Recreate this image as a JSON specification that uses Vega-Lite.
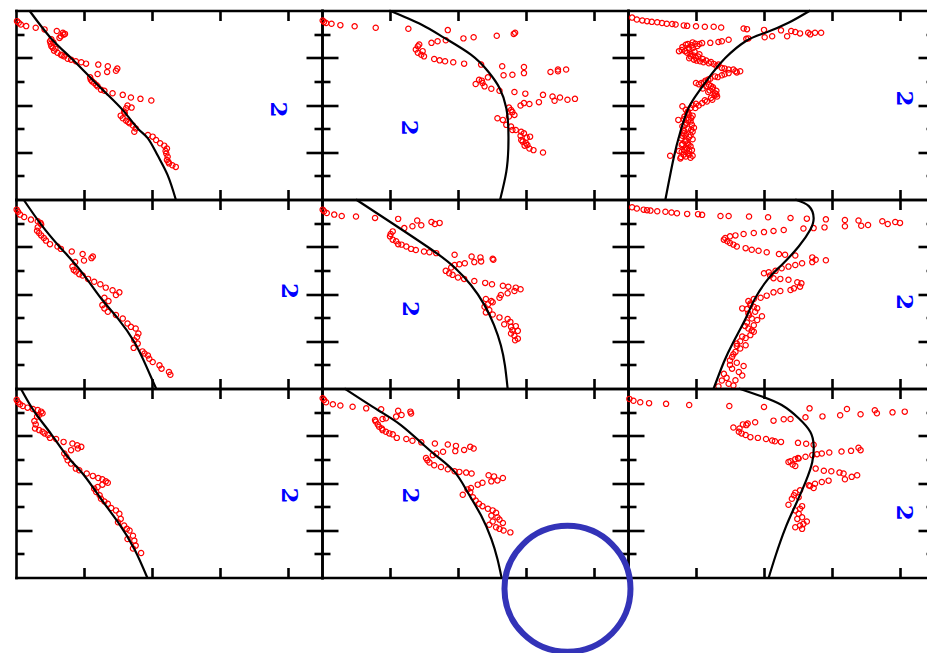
{
  "$schema": "https://vega.github.io/schema/vega-lite/v6.json",
  "padding": {"left": 11, "top": 5.5, "right": 0, "bottom": 0},
  "background": "white",
  "config": {
    "view": {"stroke": null},
    "axis": {
      "labels": false, "grid": false, "title": null,
      "domainColor": "#000", "domainWidth": 2.6, "domainCap": "square",
      "tickColor": "#000", "tickWidth": 2.6, "tickSize": -10,
      "minExtent": 0, "maxExtent": 0
    },
    "text": {"angle": 90, "color": "#0000ff", "font": "DejaVu Serif", "fontWeight": "bold", "fontSize": 23},
    "point": {"shape": "circle", "filled": false, "color": "#ff0000", "size": 28, "strokeWidth": 1.2, "opacity": 1},
    "line": {"color": "#000", "strokeWidth": 2.2, "interpolate": "natural"}
  },
  "datasets": {
    "obs": [
      {"p":1,"x":0.015,"y":0.45},{"p":1,"x":0.04,"y":0.52},{"p":1,"x":0.07,"y":0.59},{"p":1,"x":0.15,"y":0.66},{"p":1,"x":0.29,"y":0.73},{"p":1,"x":0.42,"y":0.8},{"p":1,"x":0.6,"y":0.87},{"p":1,"x":0.69,"y":0.94},{"p":1,"x":0.72,"y":0.99},{"p":1,"x":0.7,"y":1.02},{"p":1,"x":0.66,"y":1.09},{"p":1,"x":0.64,"y":1.16},{"p":1,"x":0.52,"y":1.22},{"p":1,"x":0.5,"y":1.3},{"p":1,"x":0.55,"y":1.35},{"p":1,"x":0.51,"y":1.41},{"p":1,"x":0.52,"y":1.51},{"p":1,"x":0.54,"y":1.58},{"p":1,"x":0.58,"y":1.62},{"p":1,"x":0.56,"y":1.7},{"p":1,"x":0.61,"y":1.79},{"p":1,"x":0.66,"y":1.87},{"p":1,"x":0.68,"y":1.9},{"p":1,"x":0.71,"y":1.94},{"p":1,"x":0.76,"y":2.04},{"p":1,"x":0.81,"y":2.08},{"p":1,"x":0.88,"y":2.15},{"p":1,"x":0.96,"y":2.19},{"p":1,"x":1.03,"y":2.25},{"p":1,"x":1.21,"y":2.29},{"p":1,"x":1.35,"y":2.36},{"p":1,"x":1.49,"y":2.46},{"p":1,"x":1.47,"y":2.55},{"p":1,"x":1.34,"y":2.6},{"p":1,"x":1.2,"y":2.69},{"p":1,"x":1.09,"y":2.83},{"p":1,"x":1.1,"y":2.93},{"p":1,"x":1.12,"y":3.0},{"p":1,"x":1.15,"y":3.07},{"p":1,"x":1.18,"y":3.15},{"p":1,"x":1.2,"y":3.21},{"p":1,"x":1.25,"y":3.35},{"p":1,"x":1.3,"y":3.4},{"p":1,"x":1.42,"y":3.5},{"p":1,"x":1.57,"y":3.57},{"p":1,"x":1.69,"y":3.68},{"p":1,"x":1.83,"y":3.74},{"p":1,"x":1.99,"y":3.81},{"p":1,"x":1.64,"y":4.02},{"p":1,"x":1.7,"y":4.11},{"p":1,"x":1.62,"y":4.14},{"p":1,"x":1.59,"y":4.28},{"p":1,"x":1.6,"y":4.35},{"p":1,"x":1.54,"y":4.45},{"p":1,"x":1.57,"y":4.56},{"p":1,"x":1.62,"y":4.67},{"p":1,"x":1.65,"y":4.72},{"p":1,"x":1.67,"y":4.77},{"p":1,"x":1.72,"y":4.87},{"p":1,"x":1.76,"y":4.99},{"p":1,"x":1.74,"y":5.13},{"p":1,"x":1.94,"y":5.27},{"p":1,"x":2.01,"y":5.34},{"p":1,"x":2.06,"y":5.48},{"p":1,"x":2.12,"y":5.62},{"p":1,"x":2.18,"y":5.72},{"p":1,"x":2.22,"y":5.84},{"p":1,"x":2.2,"y":5.95},{"p":1,"x":2.21,"y":6.05},{"p":1,"x":2.23,"y":6.19},{"p":1,"x":2.22,"y":6.33},{"p":1,"x":2.24,"y":6.4},{"p":1,"x":2.25,"y":6.47},{"p":1,"x":2.3,"y":6.55},{"p":1,"x":2.35,"y":6.62},

      {"p":2,"x":0.01,"y":0.42},{"p":2,"x":0.03,"y":0.48},{"p":2,"x":0.06,"y":0.53},{"p":2,"x":0.14,"y":0.56},{"p":2,"x":0.27,"y":0.62},{"p":2,"x":0.48,"y":0.67},{"p":2,"x":0.79,"y":0.73},{"p":2,"x":1.27,"y":0.77},{"p":2,"x":1.85,"y":0.83},{"p":2,"x":2.08,"y":1.18},{"p":2,"x":2.23,"y":1.13},{"p":2,"x":2.57,"y":1.07},{"p":2,"x":2.82,"y":0.99},{"p":2,"x":2.84,"y":0.94},{"p":2,"x":1.61,"y":1.37},{"p":2,"x":1.7,"y":1.3},{"p":2,"x":1.82,"y":1.26},{"p":2,"x":1.43,"y":1.44},{"p":2,"x":1.41,"y":1.51},{"p":2,"x":1.38,"y":1.65},{"p":2,"x":1.41,"y":1.79},{"p":2,"x":1.46,"y":1.87},{"p":2,"x":1.5,"y":1.94},{"p":2,"x":1.48,"y":1.72},{"p":2,"x":1.65,"y":2.05},{"p":2,"x":1.73,"y":2.11},{"p":2,"x":1.81,"y":2.15},{"p":2,"x":1.93,"y":2.19},{"p":2,"x":2.09,"y":2.25},{"p":2,"x":2.34,"y":2.29},{"p":2,"x":2.65,"y":2.36},{"p":2,"x":2.97,"y":2.39},{"p":2,"x":2.67,"y":2.74},{"p":2,"x":2.8,"y":2.72},{"p":2,"x":2.97,"y":2.65},{"p":2,"x":3.36,"y":2.6},{"p":2,"x":3.47,"y":2.5},{"p":2,"x":3.59,"y":2.5},{"p":2,"x":3.47,"y":2.57},{"p":2,"x":2.44,"y":2.83},{"p":2,"x":2.35,"y":2.97},{"p":2,"x":2.31,"y":2.93},{"p":2,"x":2.26,"y":3.11},{"p":2,"x":2.36,"y":3.07},{"p":2,"x":2.39,"y":3.21},{"p":2,"x":2.49,"y":3.31},{"p":2,"x":2.61,"y":3.4},{"p":2,"x":2.83,"y":3.45},{"p":2,"x":2.99,"y":3.52},{"p":2,"x":3.25,"y":3.57},{"p":2,"x":3.39,"y":3.64},{"p":2,"x":3.42,"y":3.82},{"p":2,"x":3.5,"y":3.68},{"p":2,"x":3.61,"y":3.78},{"p":2,"x":3.72,"y":3.74},{"p":2,"x":3.19,"y":3.88},{"p":2,"x":3.05,"y":3.96},{"p":2,"x":2.97,"y":3.92},{"p":2,"x":2.92,"y":4.02},{"p":2,"x":2.75,"y":4.11},{"p":2,"x":2.78,"y":4.21},{"p":2,"x":2.8,"y":4.3},{"p":2,"x":2.83,"y":4.42},{"p":2,"x":2.75,"y":4.49},{"p":2,"x":2.58,"y":4.56},{"p":2,"x":2.66,"y":4.63},{"p":2,"x":2.71,"y":4.84},{"p":2,"x":2.78,"y":4.91},{"p":2,"x":2.8,"y":5.06},{"p":2,"x":2.85,"y":5.06},{"p":2,"x":2.93,"y":5.13},{"p":2,"x":2.97,"y":5.2},{"p":2,"x":2.92,"y":5.3},{"p":2,"x":3.01,"y":5.38},{"p":2,"x":3.06,"y":5.34},{"p":2,"x":2.93,"y":5.48},{"p":2,"x":2.95,"y":5.55},{"p":2,"x":3.0,"y":5.62},{"p":2,"x":2.98,"y":5.72},{"p":2,"x":3.02,"y":5.69},{"p":2,"x":3.05,"y":5.84},{"p":2,"x":3.11,"y":5.91},{"p":2,"x":3.25,"y":6.01},

      {"p":3,"x":0.06,"y":0.3},{"p":3,"x":0.13,"y":0.38},{"p":3,"x":0.21,"y":0.42},{"p":3,"x":0.28,"y":0.45},{"p":3,"x":0.35,"y":0.48},{"p":3,"x":0.43,"y":0.5},{"p":3,"x":0.5,"y":0.53},{"p":3,"x":0.57,"y":0.56},{"p":3,"x":0.65,"y":0.57},{"p":3,"x":0.7,"y":0.59},{"p":3,"x":0.82,"y":0.63},{"p":3,"x":0.87,"y":0.65},{"p":3,"x":1.0,"y":0.67},{"p":3,"x":1.13,"y":0.69},{"p":3,"x":1.26,"y":0.69},{"p":3,"x":1.37,"y":0.72},{"p":3,"x":1.7,"y":0.76},{"p":3,"x":1.75,"y":0.79},{"p":3,"x":2.0,"y":0.82},{"p":3,"x":2.25,"y":0.84},{"p":3,"x":2.4,"y":0.87},{"p":3,"x":2.46,"y":0.91},{"p":3,"x":2.53,"y":0.97},{"p":3,"x":2.65,"y":0.94},{"p":3,"x":2.68,"y":1.01},{"p":3,"x":2.75,"y":0.94},{"p":3,"x":2.84,"y":0.94},{"p":3,"x":2.34,"y":1.09},{"p":3,"x":2.12,"y":1.09},{"p":3,"x":2.01,"y":1.13},{"p":3,"x":1.77,"y":1.18},{"p":3,"x":1.74,"y":1.2},{"p":3,"x":1.48,"y":1.24},{"p":3,"x":1.38,"y":1.3},{"p":3,"x":1.33,"y":1.33},{"p":3,"x":1.21,"y":1.37},{"p":3,"x":1.09,"y":1.38},{"p":3,"x":0.95,"y":1.35},{"p":3,"x":0.99,"y":1.41},{"p":3,"x":0.88,"y":1.42},{"p":3,"x":1.05,"y":1.42},{"p":3,"x":0.85,"y":1.45},{"p":3,"x":0.94,"y":1.47},{"p":3,"x":1.02,"y":1.5},{"p":3,"x":0.8,"y":1.55},{"p":3,"x":0.89,"y":1.58},{"p":3,"x":0.95,"y":1.6},{"p":3,"x":0.9,"y":1.65},{"p":3,"x":0.79,"y":1.67},{"p":3,"x":0.84,"y":1.72},{"p":3,"x":0.75,"y":1.72},{"p":3,"x":0.98,"y":1.75},{"p":3,"x":0.87,"y":1.79},{"p":3,"x":1.05,"y":1.85},{"p":3,"x":0.92,"y":1.85},{"p":3,"x":0.96,"y":1.9},{"p":3,"x":0.92,"y":1.94},{"p":3,"x":1.03,"y":1.95},{"p":3,"x":1.0,"y":2.0},{"p":3,"x":0.9,"y":2.02},{"p":3,"x":1.1,"y":2.05},{"p":3,"x":0.97,"y":2.08},{"p":3,"x":1.15,"y":2.12},{"p":3,"x":1.01,"y":2.12},{"p":3,"x":1.06,"y":2.15},{"p":3,"x":1.22,"y":2.18},{"p":3,"x":1.11,"y":2.19},{"p":3,"x":1.19,"y":2.23},{"p":3,"x":1.26,"y":2.26},{"p":3,"x":1.33,"y":2.29},{"p":3,"x":1.3,"y":2.35},{"p":3,"x":1.38,"y":2.43},{"p":3,"x":1.42,"y":2.45},{"p":3,"x":1.48,"y":2.5},{"p":3,"x":1.55,"y":2.5},{"p":3,"x":1.58,"y":2.57},{"p":3,"x":1.65,"y":2.57},{"p":3,"x":1.6,"y":2.62},{"p":3,"x":1.48,"y":2.65},{"p":3,"x":1.42,"y":2.7},{"p":3,"x":1.38,"y":2.74},{"p":3,"x":1.28,"y":2.79},{"p":3,"x":1.32,"y":2.82},{"p":3,"x":1.21,"y":2.89},{"p":3,"x":1.18,"y":2.92},{"p":3,"x":1.14,"y":2.97},{"p":3,"x":1.12,"y":3.05},{"p":3,"x":1.08,"y":3.07},{"p":3,"x":1.0,"y":3.07},{"p":3,"x":1.04,"y":3.12},{"p":3,"x":1.19,"y":3.14},{"p":3,"x":1.15,"y":3.2},{"p":3,"x":1.22,"y":3.2},{"p":3,"x":1.25,"y":3.25},{"p":3,"x":1.1,"y":3.3},{"p":3,"x":1.24,"y":3.31},{"p":3,"x":1.2,"y":3.38},{"p":3,"x":1.3,"y":3.4},{"p":3,"x":1.18,"y":3.45},{"p":3,"x":1.28,"y":3.5},{"p":3,"x":1.3,"y":3.55},{"p":3,"x":1.27,"y":3.6},{"p":3,"x":1.31,"y":3.64},{"p":3,"x":1.22,"y":3.7},{"p":3,"x":1.24,"y":3.78},{"p":3,"x":1.13,"y":3.8},{"p":3,"x":1.16,"y":3.85},{"p":3,"x":1.09,"y":3.92},{"p":3,"x":1.0,"y":3.95},{"p":3,"x":0.95,"y":4.0},{"p":3,"x":1.04,"y":4.02},{"p":3,"x":0.8,"y":4.05},{"p":3,"x":0.99,"y":4.13},{"p":3,"x":0.92,"y":4.13},{"p":3,"x":0.85,"y":4.2},{"p":3,"x":0.88,"y":4.28},{"p":3,"x":0.87,"y":4.35},{"p":3,"x":0.9,"y":4.4},{"p":3,"x":0.95,"y":4.45},{"p":3,"x":0.83,"y":4.49},{"p":3,"x":0.93,"y":4.55},{"p":3,"x":0.82,"y":4.6},{"p":3,"x":0.74,"y":4.63},{"p":3,"x":0.89,"y":4.63},{"p":3,"x":0.92,"y":4.7},{"p":3,"x":0.86,"y":4.75},{"p":3,"x":0.94,"y":4.84},{"p":3,"x":0.84,"y":4.85},{"p":3,"x":0.8,"y":4.9},{"p":3,"x":0.97,"y":4.96},{"p":3,"x":0.88,"y":5.0},{"p":3,"x":0.93,"y":5.05},{"p":3,"x":0.83,"y":5.1},{"p":3,"x":0.95,"y":5.13},{"p":3,"x":0.82,"y":5.2},{"p":3,"x":0.85,"y":5.25},{"p":3,"x":0.92,"y":5.27},{"p":3,"x":0.8,"y":5.3},{"p":3,"x":0.9,"y":5.35},{"p":3,"x":0.78,"y":5.41},{"p":3,"x":0.95,"y":5.45},{"p":3,"x":0.86,"y":5.5},{"p":3,"x":0.84,"y":5.55},{"p":3,"x":0.88,"y":5.62},{"p":3,"x":0.8,"y":5.65},{"p":3,"x":0.89,"y":5.69},{"p":3,"x":0.79,"y":5.69},{"p":3,"x":0.92,"y":5.75},{"p":3,"x":0.85,"y":5.8},{"p":3,"x":0.87,"y":5.84},{"p":3,"x":0.83,"y":5.9},{"p":3,"x":0.94,"y":5.91},{"p":3,"x":0.75,"y":5.95},{"p":3,"x":0.9,"y":5.95},{"p":3,"x":0.79,"y":5.98},{"p":3,"x":0.88,"y":6.05},{"p":3,"x":0.82,"y":6.1},{"p":3,"x":0.9,"y":6.1},{"p":3,"x":0.95,"y":6.15},{"p":3,"x":0.62,"y":6.15},{"p":3,"x":0.85,"y":6.18},{"p":3,"x":0.78,"y":6.2},{"p":3,"x":0.92,"y":6.23},{"p":3,"x":0.77,"y":6.26},

      {"p":4,"x":0.01,"y":0.43},{"p":4,"x":0.03,"y":0.52},{"p":4,"x":0.06,"y":0.64},{"p":4,"x":0.12,"y":0.74},{"p":4,"x":0.22,"y":0.85},{"p":4,"x":0.32,"y":0.92},{"p":4,"x":0.36,"y":0.99},{"p":4,"x":0.37,"y":1.06},{"p":4,"x":0.32,"y":1.18},{"p":4,"x":0.31,"y":1.32},{"p":4,"x":0.34,"y":1.42},{"p":4,"x":0.37,"y":1.52},{"p":4,"x":0.41,"y":1.63},{"p":4,"x":0.44,"y":1.74},{"p":4,"x":0.5,"y":1.89},{"p":4,"x":0.61,"y":1.99},{"p":4,"x":0.66,"y":2.09},{"p":4,"x":0.82,"y":2.2},{"p":4,"x":0.98,"y":2.31},{"p":4,"x":1.13,"y":2.41},{"p":4,"x":1.11,"y":2.48},{"p":4,"x":1.0,"y":2.58},{"p":4,"x":0.87,"y":2.65},{"p":4,"x":0.83,"y":2.84},{"p":4,"x":0.85,"y":2.98},{"p":4,"x":0.88,"y":3.05},{"p":4,"x":0.93,"y":3.16},{"p":4,"x":0.98,"y":3.22},{"p":4,"x":1.06,"y":3.36},{"p":4,"x":1.15,"y":3.48},{"p":4,"x":1.24,"y":3.59},{"p":4,"x":1.32,"y":3.73},{"p":4,"x":1.42,"y":3.84},{"p":4,"x":1.52,"y":3.93},{"p":4,"x":1.47,"y":4.04},{"p":4,"x":1.3,"y":4.16},{"p":4,"x":1.36,"y":4.3},{"p":4,"x":1.27,"y":4.47},{"p":4,"x":1.3,"y":4.61},{"p":4,"x":1.35,"y":4.75},{"p":4,"x":1.47,"y":4.89},{"p":4,"x":1.57,"y":5.04},{"p":4,"x":1.64,"y":5.25},{"p":4,"x":1.69,"y":5.39},{"p":4,"x":1.76,"y":5.46},{"p":4,"x":1.8,"y":5.67},{"p":4,"x":1.78,"y":5.82},{"p":4,"x":1.74,"y":5.96},{"p":4,"x":1.79,"y":6.1},{"p":4,"x":1.73,"y":6.28},{"p":4,"x":1.86,"y":6.43},{"p":4,"x":1.89,"y":6.52},{"p":4,"x":1.94,"y":6.6},{"p":4,"x":1.96,"y":6.74},{"p":4,"x":2.01,"y":6.88},{"p":4,"x":2.11,"y":7.02},{"p":4,"x":2.14,"y":7.16},{"p":4,"x":2.25,"y":7.3},{"p":4,"x":2.27,"y":7.42},

      {"p":5,"x":0.01,"y":0.43},{"p":5,"x":0.03,"y":0.5},{"p":5,"x":0.07,"y":0.57},{"p":5,"x":0.18,"y":0.64},{"p":5,"x":0.29,"y":0.7},{"p":5,"x":0.5,"y":0.72},{"p":5,"x":0.78,"y":0.78},{"p":5,"x":1.12,"y":0.82},{"p":5,"x":1.21,"y":1.21},{"p":5,"x":1.33,"y":1.13},{"p":5,"x":1.4,"y":0.89},{"p":5,"x":1.46,"y":1.09},{"p":5,"x":1.61,"y":0.95},{"p":5,"x":1.66,"y":1.04},{"p":5,"x":1.73,"y":0.99},{"p":5,"x":1.04,"y":1.35},{"p":5,"x":1.01,"y":1.46},{"p":5,"x":1.0,"y":1.56},{"p":5,"x":1.04,"y":1.7},{"p":5,"x":1.09,"y":1.77},{"p":5,"x":1.12,"y":1.89},{"p":5,"x":1.17,"y":1.91},{"p":5,"x":1.24,"y":1.99},{"p":5,"x":1.31,"y":2.09},{"p":5,"x":1.38,"y":2.14},{"p":5,"x":1.5,"y":2.2},{"p":5,"x":1.58,"y":2.23},{"p":5,"x":1.68,"y":2.27},{"p":5,"x":1.95,"y":2.34},{"p":5,"x":2.2,"y":2.41},{"p":5,"x":2.33,"y":2.45},{"p":5,"x":2.51,"y":2.51},{"p":5,"x":2.52,"y":2.55},{"p":5,"x":2.34,"y":2.62},{"p":5,"x":2.24,"y":2.65},{"p":5,"x":2.1,"y":2.7},{"p":5,"x":2.02,"y":2.74},{"p":5,"x":1.95,"y":2.77},{"p":5,"x":1.9,"y":2.88},{"p":5,"x":1.82,"y":3.02},{"p":5,"x":1.87,"y":3.12},{"p":5,"x":1.92,"y":3.19},{"p":5,"x":2.0,"y":3.3},{"p":5,"x":2.09,"y":3.36},{"p":5,"x":2.24,"y":3.45},{"p":5,"x":2.4,"y":3.53},{"p":5,"x":2.5,"y":3.59},{"p":5,"x":2.66,"y":3.65},{"p":5,"x":2.74,"y":3.69},{"p":5,"x":2.85,"y":3.73},{"p":5,"x":2.92,"y":3.8},{"p":5,"x":2.83,"y":3.87},{"p":5,"x":2.73,"y":3.97},{"p":5,"x":2.63,"y":4.04},{"p":5,"x":2.61,"y":4.16},{"p":5,"x":2.41,"y":4.21},{"p":5,"x":2.49,"y":4.3},{"p":5,"x":2.51,"y":4.35},{"p":5,"x":2.44,"y":4.44},{"p":5,"x":2.39,"y":4.54},{"p":5,"x":2.46,"y":4.68},{"p":5,"x":2.41,"y":4.78},{"p":5,"x":2.51,"y":4.87},{"p":5,"x":2.61,"y":4.99},{"p":5,"x":2.73,"y":5.06},{"p":5,"x":2.77,"y":5.18},{"p":5,"x":2.68,"y":5.28},{"p":5,"x":2.78,"y":5.39},{"p":5,"x":2.85,"y":5.36},{"p":5,"x":2.8,"y":5.53},{"p":5,"x":2.88,"y":5.56},{"p":5,"x":2.78,"y":5.67},{"p":5,"x":2.83,"y":5.77},{"p":5,"x":2.88,"y":5.89},{"p":5,"x":2.84,"y":5.96},

      {"p":6,"x":0.06,"y":0.33},{"p":6,"x":0.13,"y":0.38},{"p":6,"x":0.23,"y":0.43},{"p":6,"x":0.28,"y":0.45},{"p":6,"x":0.33,"y":0.47},{"p":6,"x":0.43,"y":0.5},{"p":6,"x":0.55,"y":0.52},{"p":6,"x":0.64,"y":0.55},{"p":6,"x":0.72,"y":0.58},{"p":6,"x":0.87,"y":0.61},{"p":6,"x":1.03,"y":0.62},{"p":6,"x":1.09,"y":0.65},{"p":6,"x":1.36,"y":0.7},{"p":6,"x":1.48,"y":0.7},{"p":6,"x":1.78,"y":0.72},{"p":6,"x":2.06,"y":0.75},{"p":6,"x":2.39,"y":0.78},{"p":6,"x":2.63,"y":0.81},{"p":6,"x":2.91,"y":0.84},{"p":6,"x":3.19,"y":0.87},{"p":6,"x":3.39,"y":0.89},{"p":6,"x":3.74,"y":0.92},{"p":6,"x":3.93,"y":0.95},{"p":6,"x":4.0,"y":0.99},{"p":6,"x":3.82,"y":1.04},{"p":6,"x":3.53,"y":1.08},{"p":6,"x":3.43,"y":1.11},{"p":6,"x":3.19,"y":1.13},{"p":6,"x":2.89,"y":1.18},{"p":6,"x":2.73,"y":1.21},{"p":6,"x":2.58,"y":1.23},{"p":6,"x":2.29,"y":1.29},{"p":6,"x":2.14,"y":1.33},{"p":6,"x":2.0,"y":1.38},{"p":6,"x":1.85,"y":1.42},{"p":6,"x":1.7,"y":1.46},{"p":6,"x":1.58,"y":1.52},{"p":6,"x":1.5,"y":1.56},{"p":6,"x":1.43,"y":1.63},{"p":6,"x":1.41,"y":1.7},{"p":6,"x":1.46,"y":1.77},{"p":6,"x":1.5,"y":1.84},{"p":6,"x":1.55,"y":1.91},{"p":6,"x":1.6,"y":1.99},{"p":6,"x":1.73,"y":2.06},{"p":6,"x":1.82,"y":2.13},{"p":6,"x":1.92,"y":2.17},{"p":6,"x":2.04,"y":2.23},{"p":6,"x":2.22,"y":2.31},{"p":6,"x":2.31,"y":2.34},{"p":6,"x":2.46,"y":2.37},{"p":6,"x":2.71,"y":2.45},{"p":6,"x":2.76,"y":2.55},{"p":6,"x":2.91,"y":2.57},{"p":6,"x":2.71,"y":2.65},{"p":6,"x":2.56,"y":2.7},{"p":6,"x":2.46,"y":2.77},{"p":6,"x":2.36,"y":2.84},{"p":6,"x":2.26,"y":2.91},{"p":6,"x":2.17,"y":3.02},{"p":6,"x":2.07,"y":3.08},{"p":6,"x":2.0,"y":3.12},{"p":6,"x":2.09,"y":3.22},{"p":6,"x":2.14,"y":3.33},{"p":6,"x":2.24,"y":3.36},{"p":6,"x":2.36,"y":3.4},{"p":6,"x":2.49,"y":3.5},{"p":6,"x":2.55,"y":3.55},{"p":6,"x":2.53,"y":3.69},{"p":6,"x":2.44,"y":3.76},{"p":6,"x":2.39,"y":3.83},{"p":6,"x":2.24,"y":3.87},{"p":6,"x":2.14,"y":3.93},{"p":6,"x":2.04,"y":4.07},{"p":6,"x":1.95,"y":4.16},{"p":6,"x":1.85,"y":4.21},{"p":6,"x":1.77,"y":4.3},{"p":6,"x":1.8,"y":4.4},{"p":6,"x":1.8,"y":4.47},{"p":6,"x":1.85,"y":4.54},{"p":6,"x":1.9,"y":4.6},{"p":6,"x":1.68,"y":4.61},{"p":6,"x":1.75,"y":4.64},{"p":6,"x":1.87,"y":4.75},{"p":6,"x":1.77,"y":4.82},{"p":6,"x":1.78,"y":4.9},{"p":6,"x":1.97,"y":4.94},{"p":6,"x":1.82,"y":5.04},{"p":6,"x":1.9,"y":5.1},{"p":6,"x":1.75,"y":5.21},{"p":6,"x":1.85,"y":5.32},{"p":6,"x":1.72,"y":5.35},{"p":6,"x":1.77,"y":5.46},{"p":6,"x":1.82,"y":5.55},{"p":6,"x":1.85,"y":5.6},{"p":6,"x":1.8,"y":5.74},{"p":6,"x":1.68,"y":5.8},{"p":6,"x":1.73,"y":5.86},{"p":6,"x":1.65,"y":6.0},{"p":6,"x":1.6,"y":6.1},{"p":6,"x":1.73,"y":6.17},{"p":6,"x":1.6,"y":6.2},{"p":6,"x":1.65,"y":6.31},{"p":6,"x":1.58,"y":6.45},{"p":6,"x":1.55,"y":6.55},{"p":6,"x":1.53,"y":6.67},{"p":6,"x":1.5,"y":6.81},{"p":6,"x":1.6,"y":6.91},{"p":6,"x":1.5,"y":7.0},{"p":6,"x":1.7,"y":7.05},{"p":6,"x":1.53,"y":7.16},{"p":6,"x":1.63,"y":7.3},{"p":6,"x":1.41,"y":7.38},{"p":6,"x":1.68,"y":7.45},{"p":6,"x":1.45,"y":7.55},{"p":6,"x":1.58,"y":7.65},{"p":6,"x":1.38,"y":7.66},{"p":6,"x":1.48,"y":7.8},{"p":6,"x":1.55,"y":7.87},{"p":6,"x":1.33,"y":7.91},

      {"p":7,"x":0.01,"y":0.48},{"p":7,"x":0.03,"y":0.58},{"p":7,"x":0.06,"y":0.67},{"p":7,"x":0.1,"y":0.74},{"p":7,"x":0.17,"y":0.81},{"p":7,"x":0.25,"y":0.87},{"p":7,"x":0.32,"y":0.91},{"p":7,"x":0.37,"y":0.98},{"p":7,"x":0.39,"y":1.05},{"p":7,"x":0.34,"y":1.12},{"p":7,"x":0.31,"y":1.19},{"p":7,"x":0.27,"y":1.38},{"p":7,"x":0.29,"y":1.52},{"p":7,"x":0.28,"y":1.69},{"p":7,"x":0.34,"y":1.76},{"p":7,"x":0.39,"y":1.83},{"p":7,"x":0.42,"y":1.9},{"p":7,"x":0.47,"y":1.97},{"p":7,"x":0.5,"y":2.09},{"p":7,"x":0.59,"y":2.14},{"p":7,"x":0.7,"y":2.26},{"p":7,"x":0.83,"y":2.33},{"p":7,"x":0.9,"y":2.4},{"p":7,"x":0.96,"y":2.47},{"p":7,"x":0.91,"y":2.54},{"p":7,"x":0.81,"y":2.61},{"p":7,"x":0.71,"y":2.75},{"p":7,"x":0.74,"y":2.89},{"p":7,"x":0.76,"y":3.04},{"p":7,"x":0.81,"y":3.18},{"p":7,"x":0.88,"y":3.39},{"p":7,"x":0.93,"y":3.46},{"p":7,"x":1.04,"y":3.6},{"p":7,"x":1.13,"y":3.7},{"p":7,"x":1.21,"y":3.79},{"p":7,"x":1.27,"y":3.84},{"p":7,"x":1.32,"y":3.93},{"p":7,"x":1.35,"y":3.99},{"p":7,"x":1.27,"y":4.07},{"p":7,"x":1.2,"y":4.17},{"p":7,"x":1.15,"y":4.24},{"p":7,"x":1.18,"y":4.38},{"p":7,"x":1.23,"y":4.52},{"p":7,"x":1.25,"y":4.67},{"p":7,"x":1.3,"y":4.78},{"p":7,"x":1.35,"y":4.88},{"p":7,"x":1.4,"y":5.06},{"p":7,"x":1.47,"y":5.16},{"p":7,"x":1.52,"y":5.3},{"p":7,"x":1.54,"y":5.52},{"p":7,"x":1.5,"y":5.66},{"p":7,"x":1.59,"y":5.8},{"p":7,"x":1.63,"y":5.94},{"p":7,"x":1.67,"y":6.01},{"p":7,"x":1.72,"y":6.23},{"p":7,"x":1.64,"y":6.37},{"p":7,"x":1.74,"y":6.44},{"p":7,"x":1.76,"y":6.65},{"p":7,"x":1.72,"y":6.77},{"p":7,"x":1.84,"y":6.96},

      {"p":8,"x":0.01,"y":0.41},{"p":8,"x":0.03,"y":0.48},{"p":8,"x":0.06,"y":0.58},{"p":8,"x":0.16,"y":0.67},{"p":8,"x":0.27,"y":0.72},{"p":8,"x":0.45,"y":0.77},{"p":8,"x":0.65,"y":0.84},{"p":8,"x":0.87,"y":0.88},{"p":8,"x":1.12,"y":0.94},{"p":8,"x":1.3,"y":0.98},{"p":8,"x":1.31,"y":1.06},{"p":8,"x":1.17,"y":1.12},{"p":8,"x":1.09,"y":1.19},{"p":8,"x":0.94,"y":1.26},{"p":8,"x":0.89,"y":1.29},{"p":8,"x":0.78,"y":1.33},{"p":8,"x":0.79,"y":1.4},{"p":8,"x":0.82,"y":1.52},{"p":8,"x":0.84,"y":1.62},{"p":8,"x":0.88,"y":1.69},{"p":8,"x":0.89,"y":1.76},{"p":8,"x":0.94,"y":1.83},{"p":8,"x":0.99,"y":1.9},{"p":8,"x":1.04,"y":1.94},{"p":8,"x":1.1,"y":2.09},{"p":8,"x":1.24,"y":2.14},{"p":8,"x":1.33,"y":2.21},{"p":8,"x":1.46,"y":2.28},{"p":8,"x":1.66,"y":2.33},{"p":8,"x":1.85,"y":2.37},{"p":8,"x":1.97,"y":2.43},{"p":8,"x":2.18,"y":2.47},{"p":8,"x":2.23,"y":2.54},{"p":8,"x":2.09,"y":2.6},{"p":8,"x":1.96,"y":2.65},{"p":8,"x":1.78,"y":2.68},{"p":8,"x":1.68,"y":2.75},{"p":8,"x":1.63,"y":2.82},{"p":8,"x":1.53,"y":2.94},{"p":8,"x":1.55,"y":3.04},{"p":8,"x":1.58,"y":3.13},{"p":8,"x":1.65,"y":3.25},{"p":8,"x":1.75,"y":3.32},{"p":8,"x":1.85,"y":3.42},{"p":8,"x":1.95,"y":3.5},{"p":8,"x":2.02,"y":3.53},{"p":8,"x":2.12,"y":3.56},{"p":8,"x":2.2,"y":3.6},{"p":8,"x":2.45,"y":3.67},{"p":8,"x":2.53,"y":3.72},{"p":8,"x":2.66,"y":3.79},{"p":8,"x":2.58,"y":3.89},{"p":8,"x":2.49,"y":3.93},{"p":8,"x":2.36,"y":3.99},{"p":8,"x":2.29,"y":4.07},{"p":8,"x":2.19,"y":4.21},{"p":8,"x":2.14,"y":4.27},{"p":8,"x":2.18,"y":4.38},{"p":8,"x":2.07,"y":4.5},{"p":8,"x":2.22,"y":4.6},{"p":8,"x":2.26,"y":4.74},{"p":8,"x":2.31,"y":4.88},{"p":8,"x":2.36,"y":4.98},{"p":8,"x":2.44,"y":5.09},{"p":8,"x":2.51,"y":5.16},{"p":8,"x":2.56,"y":5.26},{"p":8,"x":2.49,"y":5.38},{"p":8,"x":2.58,"y":5.45},{"p":8,"x":2.61,"y":5.55},{"p":8,"x":2.51,"y":5.63},{"p":8,"x":2.66,"y":5.69},{"p":8,"x":2.46,"y":5.77},{"p":8,"x":2.56,"y":5.87},{"p":8,"x":2.61,"y":5.94},{"p":8,"x":2.67,"y":6.01},{"p":8,"x":2.77,"y":6.09},

      {"p":9,"x":0.02,"y":0.44},{"p":9,"x":0.08,"y":0.52},{"p":9,"x":0.18,"y":0.58},{"p":9,"x":0.31,"y":0.62},{"p":9,"x":0.56,"y":0.65},{"p":9,"x":0.9,"y":0.7},{"p":9,"x":1.49,"y":0.74},{"p":9,"x":2.0,"y":0.78},{"p":9,"x":2.67,"y":0.84},{"p":9,"x":3.22,"y":0.87},{"p":9,"x":3.63,"y":0.92},{"p":9,"x":3.66,"y":1.05},{"p":9,"x":3.89,"y":1.01},{"p":9,"x":4.07,"y":0.98},{"p":9,"x":3.42,"y":1.09},{"p":9,"x":3.12,"y":1.13},{"p":9,"x":2.86,"y":1.18},{"p":9,"x":2.61,"y":1.22},{"p":9,"x":2.39,"y":1.29},{"p":9,"x":2.29,"y":1.3},{"p":9,"x":2.14,"y":1.36},{"p":9,"x":1.87,"y":1.43},{"p":9,"x":1.76,"y":1.48},{"p":9,"x":1.74,"y":1.55},{"p":9,"x":1.69,"y":1.52},{"p":9,"x":1.55,"y":1.65},{"p":9,"x":1.64,"y":1.69},{"p":9,"x":1.63,"y":1.83},{"p":9,"x":1.67,"y":1.9},{"p":9,"x":1.73,"y":1.97},{"p":9,"x":1.8,"y":2.06},{"p":9,"x":1.91,"y":2.09},{"p":9,"x":2.03,"y":2.14},{"p":9,"x":2.12,"y":2.2},{"p":9,"x":2.16,"y":2.23},{"p":9,"x":2.25,"y":2.26},{"p":9,"x":2.5,"y":2.3},{"p":9,"x":2.62,"y":2.34},{"p":9,"x":2.73,"y":2.38},{"p":9,"x":3.28,"y":2.64},{"p":9,"x":3.39,"y":2.51},{"p":9,"x":3.42,"y":2.61},{"p":9,"x":3.14,"y":2.67},{"p":9,"x":2.96,"y":2.71},{"p":9,"x":2.85,"y":2.75},{"p":9,"x":2.78,"y":2.78},{"p":9,"x":2.71,"y":2.82},{"p":9,"x":2.61,"y":2.89},{"p":9,"x":2.51,"y":2.96},{"p":9,"x":2.5,"y":2.94},{"p":9,"x":2.46,"y":2.99},{"p":9,"x":2.39,"y":3.08},{"p":9,"x":2.36,"y":3.11},{"p":9,"x":2.42,"y":3.22},{"p":9,"x":2.46,"y":3.28},{"p":9,"x":2.76,"y":3.39},{"p":9,"x":2.88,"y":3.48},{"p":9,"x":2.99,"y":3.5},{"p":9,"x":3.11,"y":3.56},{"p":9,"x":3.17,"y":3.6},{"p":9,"x":3.37,"y":3.67},{"p":9,"x":3.29,"y":3.74},{"p":9,"x":3.19,"y":3.84},{"p":9,"x":2.95,"y":3.9},{"p":9,"x":2.85,"y":3.96},{"p":9,"x":2.75,"y":4.03},{"p":9,"x":2.66,"y":4.1},{"p":9,"x":2.68,"y":4.13},{"p":9,"x":2.73,"y":4.21},{"p":9,"x":2.53,"y":4.31},{"p":9,"x":2.46,"y":4.41},{"p":9,"x":2.44,"y":4.52},{"p":9,"x":2.51,"y":4.6},{"p":9,"x":2.41,"y":4.67},{"p":9,"x":2.36,"y":4.92},{"p":9,"x":2.56,"y":4.98},{"p":9,"x":2.53,"y":5.09},{"p":9,"x":2.46,"y":5.16},{"p":9,"x":2.51,"y":5.3},{"p":9,"x":2.56,"y":5.45},{"p":9,"x":2.49,"y":5.52},{"p":9,"x":2.63,"y":5.63},{"p":9,"x":2.58,"y":5.73},{"p":9,"x":2.53,"y":5.8},{"p":9,"x":2.46,"y":5.87},{"p":9,"x":2.56,"y":5.94}
    ],
    "fit": [
      {"p":1,"x":0.196,"y":0.0},{"p":1,"x":0.51,"y":1.16},{"p":1,"x":0.81,"y":2.01},{"p":1,"x":1.1,"y":2.86},{"p":1,"x":1.35,"y":3.57},{"p":1,"x":1.59,"y":4.28},{"p":1,"x":1.79,"y":4.99},{"p":1,"x":1.94,"y":5.41},{"p":1,"x":2.08,"y":6.12},{"p":1,"x":2.23,"y":6.97},{"p":1,"x":2.35,"y":8.0},
      {"p":2,"x":0.99,"y":0.0},{"p":2,"x":1.46,"y":0.59},{"p":2,"x":1.8,"y":1.16},{"p":2,"x":2.19,"y":1.87},{"p":2,"x":2.44,"y":2.57},{"p":2,"x":2.61,"y":3.28},{"p":2,"x":2.71,"y":4.13},{"p":2,"x":2.74,"y":4.99},{"p":2,"x":2.74,"y":5.84},{"p":2,"x":2.71,"y":6.83},{"p":2,"x":2.62,"y":8.0},
      {"p":3,"x":2.68,"y":0.0},{"p":3,"x":2.36,"y":0.52},{"p":3,"x":2.02,"y":0.94},{"p":3,"x":1.73,"y":1.3},{"p":3,"x":1.43,"y":2.01},{"p":3,"x":1.24,"y":2.65},{"p":3,"x":1.04,"y":3.43},{"p":3,"x":0.89,"y":4.13},{"p":3,"x":0.77,"y":5.13},{"p":3,"x":0.67,"y":6.26},{"p":3,"x":0.55,"y":8.0},
      {"p":4,"x":0.11,"y":0.0},{"p":4,"x":0.37,"y":1.06},{"p":4,"x":0.66,"y":2.06},{"p":4,"x":0.96,"y":3.05},{"p":4,"x":1.25,"y":4.18},{"p":4,"x":1.5,"y":5.04},{"p":4,"x":1.74,"y":6.03},{"p":4,"x":1.91,"y":7.02},{"p":4,"x":2.06,"y":8.0},
      {"p":5,"x":0.5,"y":0.0},{"p":5,"x":1.06,"y":1.06},{"p":5,"x":1.65,"y":2.2},{"p":5,"x":1.95,"y":2.88},{"p":5,"x":2.19,"y":3.62},{"p":5,"x":2.39,"y":4.47},{"p":5,"x":2.53,"y":5.32},{"p":5,"x":2.63,"y":6.17},{"p":5,"x":2.69,"y":7.02},{"p":5,"x":2.73,"y":8.0},
      {"p":6,"x":2.46,"y":0.0},{"p":6,"x":2.66,"y":0.28},{"p":6,"x":2.73,"y":0.78},{"p":6,"x":2.68,"y":1.28},{"p":6,"x":2.51,"y":1.99},{"p":6,"x":2.26,"y":2.77},{"p":6,"x":2.07,"y":3.33},{"p":6,"x":1.87,"y":4.18},{"p":6,"x":1.73,"y":5.04},{"p":6,"x":1.55,"y":6.03},{"p":6,"x":1.41,"y":6.88},{"p":6,"x":1.26,"y":8.0},
      {"p":7,"x":0.07,"y":0.0},{"p":7,"x":0.27,"y":0.98},{"p":7,"x":0.51,"y":1.9},{"p":7,"x":0.76,"y":2.89},{"p":7,"x":1.0,"y":3.67},{"p":7,"x":1.25,"y":4.67},{"p":7,"x":1.5,"y":5.66},{"p":7,"x":1.74,"y":6.79},{"p":7,"x":1.93,"y":8.0},
      {"p":8,"x":0.33,"y":0.0},{"p":8,"x":0.82,"y":0.91},{"p":8,"x":1.16,"y":1.55},{"p":8,"x":1.5,"y":2.4},{"p":8,"x":1.7,"y":2.89},{"p":8,"x":1.95,"y":3.53},{"p":8,"x":2.14,"y":4.38},{"p":8,"x":2.34,"y":5.38},{"p":8,"x":2.49,"y":6.37},{"p":8,"x":2.58,"y":7.22},{"p":8,"x":2.64,"y":8.0},
      {"p":9,"x":1.63,"y":0.0},{"p":9,"x":1.97,"y":0.34},{"p":9,"x":2.26,"y":0.7},{"p":9,"x":2.51,"y":1.26},{"p":9,"x":2.68,"y":1.83},{"p":9,"x":2.73,"y":2.4},{"p":9,"x":2.71,"y":3.11},{"p":9,"x":2.61,"y":3.96},{"p":9,"x":2.46,"y":4.95},{"p":9,"x":2.31,"y":5.94},{"p":9,"x":2.17,"y":7.08},{"p":9,"x":2.07,"y":8.0}
    ],
    "labels": [
      {"p":1,"x":3.85,"y":4.19,"t":"2"},{"p":2,"x":1.28,"y":4.96,"t":"2"},{"p":3,"x":4.06,"y":3.72,"t":"2"},
      {"p":4,"x":4.01,"y":3.87,"t":"2"},{"p":5,"x":1.29,"y":4.64,"t":"2"},{"p":6,"x":4.06,"y":4.34,"t":"2"},
      {"p":7,"x":4.01,"y":4.53,"t":"2"},{"p":8,"x":1.29,"y":4.53,"t":"2"},{"p":9,"x":4.06,"y":5.26,"t":"2"}
    ],
    "ring": [
      {"p":9,"x":-0.89,"y":8.48}
    ]
  },
  "columns": 3,
  "spacing": 0,
  "bounds": "flush",
  "concat": [
    {"width":306,"height":189,"resolve":{"axis":{"x":"independent","y":"independent"}},"layer":[
      {"data":{"name":"obs"},"transform":[{"filter":"datum.p === 1"}],"mark":"point",
       "encoding":{"x":{"field":"x","type":"quantitative","scale":{"domain":[0,4.5],"nice":false,"zero":false},"axis":{"orient":"bottom","values":[1,2,3,4],"title":null}},
                   "y":{"field":"y","type":"quantitative","scale":{"domain":[0,8],"nice":false,"reverse":true},"axis":{"orient":"left","values":[1,2,3,4,5,6,7],"title":null,"tickSize":{"condition":{"test":"datum.value % 2 === 0","value":-16},"value":-8}}}}},
      {"data":{"name":"fit"},"transform":[{"filter":"datum.p === 1"}],"mark":"line",
       "encoding":{"x":{"field":"x","type":"quantitative","scale":{"domain":[0,4.5],"nice":false,"zero":false},"axis":{"orient":"top","values":[1,2,3,4],"title":null}},
                   "y":{"field":"y","type":"quantitative","scale":{"domain":[0,8],"nice":false,"reverse":true},"axis":{"orient":"right","values":[1,2,3,4,5,6,7],"title":null,"tickSize":{"condition":{"test":"datum.value % 2 === 0","value":-16},"value":-8}}},
                   "order":{"field":"y","type":"quantitative"}}},
      {"data":{"name":"labels"},"transform":[{"filter":"datum.p === 1"}],"mark":"text",
       "encoding":{"x":{"field":"x","type":"quantitative","scale":{"domain":[0,4.5],"nice":false,"zero":false},"axis":null},
                   "y":{"field":"y","type":"quantitative","scale":{"domain":[0,8],"nice":false,"reverse":true},"axis":null},"text":{"field":"t"}}}
    ]},
    {"width":306,"height":189,"resolve":{"axis":{"x":"independent","y":"independent"}},"layer":[
      {"data":{"name":"obs"},"transform":[{"filter":"datum.p === 2"}],"mark":"point",
       "encoding":{"x":{"field":"x","type":"quantitative","scale":{"domain":[0,4.5],"nice":false,"zero":false},"axis":{"orient":"bottom","values":[1,2,3,4],"title":null}},
                   "y":{"field":"y","type":"quantitative","scale":{"domain":[0,8],"nice":false,"reverse":true},"axis":{"orient":"left","values":[1,2,3,4,5,6,7],"title":null,"tickSize":{"condition":{"test":"datum.value % 2 === 0","value":-16},"value":-8}}}}},
      {"data":{"name":"fit"},"transform":[{"filter":"datum.p === 2"}],"mark":"line",
       "encoding":{"x":{"field":"x","type":"quantitative","scale":{"domain":[0,4.5],"nice":false,"zero":false},"axis":{"orient":"top","values":[1,2,3,4],"title":null}},
                   "y":{"field":"y","type":"quantitative","scale":{"domain":[0,8],"nice":false,"reverse":true},"axis":{"orient":"right","values":[1,2,3,4,5,6,7],"title":null,"tickSize":{"condition":{"test":"datum.value % 2 === 0","value":-16},"value":-8}}},
                   "order":{"field":"y","type":"quantitative"}}},
      {"data":{"name":"labels"},"transform":[{"filter":"datum.p === 2"}],"mark":"text",
       "encoding":{"x":{"field":"x","type":"quantitative","scale":{"domain":[0,4.5],"nice":false,"zero":false},"axis":null},
                   "y":{"field":"y","type":"quantitative","scale":{"domain":[0,8],"nice":false,"reverse":true},"axis":null},"text":{"field":"t"}}}
    ]},
    {"width":306,"height":189,"resolve":{"axis":{"x":"independent","y":"independent"}},"layer":[
      {"data":{"name":"obs"},"transform":[{"filter":"datum.p === 3"}],"mark":"point",
       "encoding":{"x":{"field":"x","type":"quantitative","scale":{"domain":[0,4.5],"nice":false,"zero":false},"axis":{"orient":"bottom","values":[1,2,3,4],"title":null}},
                   "y":{"field":"y","type":"quantitative","scale":{"domain":[0,8],"nice":false,"reverse":true},"axis":{"orient":"left","values":[1,2,3,4,5,6,7],"title":null,"tickSize":{"condition":{"test":"datum.value % 2 === 0","value":-16},"value":-8}}}}},
      {"data":{"name":"fit"},"transform":[{"filter":"datum.p === 3"}],"mark":"line",
       "encoding":{"x":{"field":"x","type":"quantitative","scale":{"domain":[0,4.5],"nice":false,"zero":false},"axis":{"orient":"top","values":[1,2,3,4],"title":null}},
                   "y":{"field":"y","type":"quantitative","scale":{"domain":[0,8],"nice":false,"reverse":true},"axis":{"orient":"right","values":[1,2,3,4,5,6,7],"title":null,"tickSize":{"condition":{"test":"datum.value % 2 === 0","value":-16},"value":-8}}},
                   "order":{"field":"y","type":"quantitative"}}},
      {"data":{"name":"labels"},"transform":[{"filter":"datum.p === 3"}],"mark":"text",
       "encoding":{"x":{"field":"x","type":"quantitative","scale":{"domain":[0,4.5],"nice":false,"zero":false},"axis":null},
                   "y":{"field":"y","type":"quantitative","scale":{"domain":[0,8],"nice":false,"reverse":true},"axis":null},"text":{"field":"t"}}}
    ]},
    {"width":306,"height":189,"resolve":{"axis":{"x":"independent","y":"independent"}},"layer":[
      {"data":{"name":"obs"},"transform":[{"filter":"datum.p === 4"}],"mark":"point",
       "encoding":{"x":{"field":"x","type":"quantitative","scale":{"domain":[0,4.5],"nice":false,"zero":false},"axis":{"orient":"bottom","values":[1,2,3,4],"title":null}},
                   "y":{"field":"y","type":"quantitative","scale":{"domain":[0,8],"nice":false,"reverse":true},"axis":{"orient":"left","values":[1,2,3,4,5,6,7],"title":null,"tickSize":{"condition":{"test":"datum.value % 2 === 0","value":-16},"value":-8}}}}},
      {"data":{"name":"fit"},"transform":[{"filter":"datum.p === 4"}],"mark":"line",
       "encoding":{"x":{"field":"x","type":"quantitative","scale":{"domain":[0,4.5],"nice":false,"zero":false},"axis":{"orient":"top","values":[1,2,3,4],"title":null}},
                   "y":{"field":"y","type":"quantitative","scale":{"domain":[0,8],"nice":false,"reverse":true},"axis":{"orient":"right","values":[1,2,3,4,5,6,7],"title":null,"tickSize":{"condition":{"test":"datum.value % 2 === 0","value":-16},"value":-8}}},
                   "order":{"field":"y","type":"quantitative"}}},
      {"data":{"name":"labels"},"transform":[{"filter":"datum.p === 4"}],"mark":"text",
       "encoding":{"x":{"field":"x","type":"quantitative","scale":{"domain":[0,4.5],"nice":false,"zero":false},"axis":null},
                   "y":{"field":"y","type":"quantitative","scale":{"domain":[0,8],"nice":false,"reverse":true},"axis":null},"text":{"field":"t"}}}
    ]},
    {"width":306,"height":189,"resolve":{"axis":{"x":"independent","y":"independent"}},"layer":[
      {"data":{"name":"obs"},"transform":[{"filter":"datum.p === 5"}],"mark":"point",
       "encoding":{"x":{"field":"x","type":"quantitative","scale":{"domain":[0,4.5],"nice":false,"zero":false},"axis":{"orient":"bottom","values":[1,2,3,4],"title":null}},
                   "y":{"field":"y","type":"quantitative","scale":{"domain":[0,8],"nice":false,"reverse":true},"axis":{"orient":"left","values":[1,2,3,4,5,6,7],"title":null,"tickSize":{"condition":{"test":"datum.value % 2 === 0","value":-16},"value":-8}}}}},
      {"data":{"name":"fit"},"transform":[{"filter":"datum.p === 5"}],"mark":"line",
       "encoding":{"x":{"field":"x","type":"quantitative","scale":{"domain":[0,4.5],"nice":false,"zero":false},"axis":{"orient":"top","values":[1,2,3,4],"title":null}},
                   "y":{"field":"y","type":"quantitative","scale":{"domain":[0,8],"nice":false,"reverse":true},"axis":{"orient":"right","values":[1,2,3,4,5,6,7],"title":null,"tickSize":{"condition":{"test":"datum.value % 2 === 0","value":-16},"value":-8}}},
                   "order":{"field":"y","type":"quantitative"}}},
      {"data":{"name":"labels"},"transform":[{"filter":"datum.p === 5"}],"mark":"text",
       "encoding":{"x":{"field":"x","type":"quantitative","scale":{"domain":[0,4.5],"nice":false,"zero":false},"axis":null},
                   "y":{"field":"y","type":"quantitative","scale":{"domain":[0,8],"nice":false,"reverse":true},"axis":null},"text":{"field":"t"}}}
    ]},
    {"width":306,"height":189,"resolve":{"axis":{"x":"independent","y":"independent"}},"layer":[
      {"data":{"name":"obs"},"transform":[{"filter":"datum.p === 6"}],"mark":"point",
       "encoding":{"x":{"field":"x","type":"quantitative","scale":{"domain":[0,4.5],"nice":false,"zero":false},"axis":{"orient":"bottom","values":[1,2,3,4],"title":null}},
                   "y":{"field":"y","type":"quantitative","scale":{"domain":[0,8],"nice":false,"reverse":true},"axis":{"orient":"left","values":[1,2,3,4,5,6,7],"title":null,"tickSize":{"condition":{"test":"datum.value % 2 === 0","value":-16},"value":-8}}}}},
      {"data":{"name":"fit"},"transform":[{"filter":"datum.p === 6"}],"mark":"line",
       "encoding":{"x":{"field":"x","type":"quantitative","scale":{"domain":[0,4.5],"nice":false,"zero":false},"axis":{"orient":"top","values":[1,2,3,4],"title":null}},
                   "y":{"field":"y","type":"quantitative","scale":{"domain":[0,8],"nice":false,"reverse":true},"axis":{"orient":"right","values":[1,2,3,4,5,6,7],"title":null,"tickSize":{"condition":{"test":"datum.value % 2 === 0","value":-16},"value":-8}}},
                   "order":{"field":"y","type":"quantitative"}}},
      {"data":{"name":"labels"},"transform":[{"filter":"datum.p === 6"}],"mark":"text",
       "encoding":{"x":{"field":"x","type":"quantitative","scale":{"domain":[0,4.5],"nice":false,"zero":false},"axis":null},
                   "y":{"field":"y","type":"quantitative","scale":{"domain":[0,8],"nice":false,"reverse":true},"axis":null},"text":{"field":"t"}}}
    ]},
    {"width":306,"height":189,"resolve":{"axis":{"x":"independent","y":"independent"}},"layer":[
      {"data":{"name":"obs"},"transform":[{"filter":"datum.p === 7"}],"mark":"point",
       "encoding":{"x":{"field":"x","type":"quantitative","scale":{"domain":[0,4.5],"nice":false,"zero":false},"axis":{"orient":"bottom","values":[1,2,3,4],"title":null}},
                   "y":{"field":"y","type":"quantitative","scale":{"domain":[0,8],"nice":false,"reverse":true},"axis":{"orient":"left","values":[1,2,3,4,5,6,7],"title":null,"tickSize":{"condition":{"test":"datum.value % 2 === 0","value":-16},"value":-8}}}}},
      {"data":{"name":"fit"},"transform":[{"filter":"datum.p === 7"}],"mark":"line",
       "encoding":{"x":{"field":"x","type":"quantitative","scale":{"domain":[0,4.5],"nice":false,"zero":false},"axis":{"orient":"top","values":[1,2,3,4],"title":null}},
                   "y":{"field":"y","type":"quantitative","scale":{"domain":[0,8],"nice":false,"reverse":true},"axis":{"orient":"right","values":[1,2,3,4,5,6,7],"title":null,"tickSize":{"condition":{"test":"datum.value % 2 === 0","value":-16},"value":-8}}},
                   "order":{"field":"y","type":"quantitative"}}},
      {"data":{"name":"labels"},"transform":[{"filter":"datum.p === 7"}],"mark":"text",
       "encoding":{"x":{"field":"x","type":"quantitative","scale":{"domain":[0,4.5],"nice":false,"zero":false},"axis":null},
                   "y":{"field":"y","type":"quantitative","scale":{"domain":[0,8],"nice":false,"reverse":true},"axis":null},"text":{"field":"t"}}}
    ]},
    {"width":306,"height":189,"resolve":{"axis":{"x":"independent","y":"independent"}},"layer":[
      {"data":{"name":"obs"},"transform":[{"filter":"datum.p === 8"}],"mark":"point",
       "encoding":{"x":{"field":"x","type":"quantitative","scale":{"domain":[0,4.5],"nice":false,"zero":false},"axis":{"orient":"bottom","values":[1,2,3,4],"title":null}},
                   "y":{"field":"y","type":"quantitative","scale":{"domain":[0,8],"nice":false,"reverse":true},"axis":{"orient":"left","values":[1,2,3,4,5,6,7],"title":null,"tickSize":{"condition":{"test":"datum.value % 2 === 0","value":-16},"value":-8}}}}},
      {"data":{"name":"fit"},"transform":[{"filter":"datum.p === 8"}],"mark":"line",
       "encoding":{"x":{"field":"x","type":"quantitative","scale":{"domain":[0,4.5],"nice":false,"zero":false},"axis":{"orient":"top","values":[1,2,3,4],"title":null}},
                   "y":{"field":"y","type":"quantitative","scale":{"domain":[0,8],"nice":false,"reverse":true},"axis":{"orient":"right","values":[1,2,3,4,5,6,7],"title":null,"tickSize":{"condition":{"test":"datum.value % 2 === 0","value":-16},"value":-8}}},
                   "order":{"field":"y","type":"quantitative"}}},
      {"data":{"name":"labels"},"transform":[{"filter":"datum.p === 8"}],"mark":"text",
       "encoding":{"x":{"field":"x","type":"quantitative","scale":{"domain":[0,4.5],"nice":false,"zero":false},"axis":null},
                   "y":{"field":"y","type":"quantitative","scale":{"domain":[0,8],"nice":false,"reverse":true},"axis":null},"text":{"field":"t"}}}
    ]},
    {"width":306,"height":189,"resolve":{"axis":{"x":"independent","y":"independent"}},"layer":[
      {"data":{"name":"obs"},"transform":[{"filter":"datum.p === 9"}],"mark":"point",
       "encoding":{"x":{"field":"x","type":"quantitative","scale":{"domain":[0,4.5],"nice":false,"zero":false},"axis":{"orient":"bottom","values":[1,2,3,4],"title":null}},
                   "y":{"field":"y","type":"quantitative","scale":{"domain":[0,8],"nice":false,"reverse":true},"axis":{"orient":"left","values":[1,2,3,4,5,6,7],"title":null,"tickSize":{"condition":{"test":"datum.value % 2 === 0","value":-16},"value":-8}}}}},
      {"data":{"name":"fit"},"transform":[{"filter":"datum.p === 9"}],"mark":"line",
       "encoding":{"x":{"field":"x","type":"quantitative","scale":{"domain":[0,4.5],"nice":false,"zero":false},"axis":{"orient":"top","values":[1,2,3,4],"title":null}},
                   "y":{"field":"y","type":"quantitative","scale":{"domain":[0,8],"nice":false,"reverse":true},"axis":{"orient":"right","values":[1,2,3,4,5,6,7],"title":null,"tickSize":{"condition":{"test":"datum.value % 2 === 0","value":-16},"value":-8}}},
                   "order":{"field":"y","type":"quantitative"}}},
      {"data":{"name":"labels"},"transform":[{"filter":"datum.p === 9"}],"mark":"text",
       "encoding":{"x":{"field":"x","type":"quantitative","scale":{"domain":[0,4.5],"nice":false,"zero":false},"axis":null},
                   "y":{"field":"y","type":"quantitative","scale":{"domain":[0,8],"nice":false,"reverse":true},"axis":null},"text":{"field":"t"}}},
      {"data":{"name":"ring"},"mark":{"type":"point","shape":"circle","filled":false,"color":"#3333b8","size":15876,"strokeWidth":6,"opacity":1},
       "encoding":{"x":{"field":"x","type":"quantitative","scale":{"domain":[0,4.5],"nice":false,"zero":false},"axis":null},
                   "y":{"field":"y","type":"quantitative","scale":{"domain":[0,8],"nice":false,"reverse":true},"axis":null}}}
    ]}
  ]
}
